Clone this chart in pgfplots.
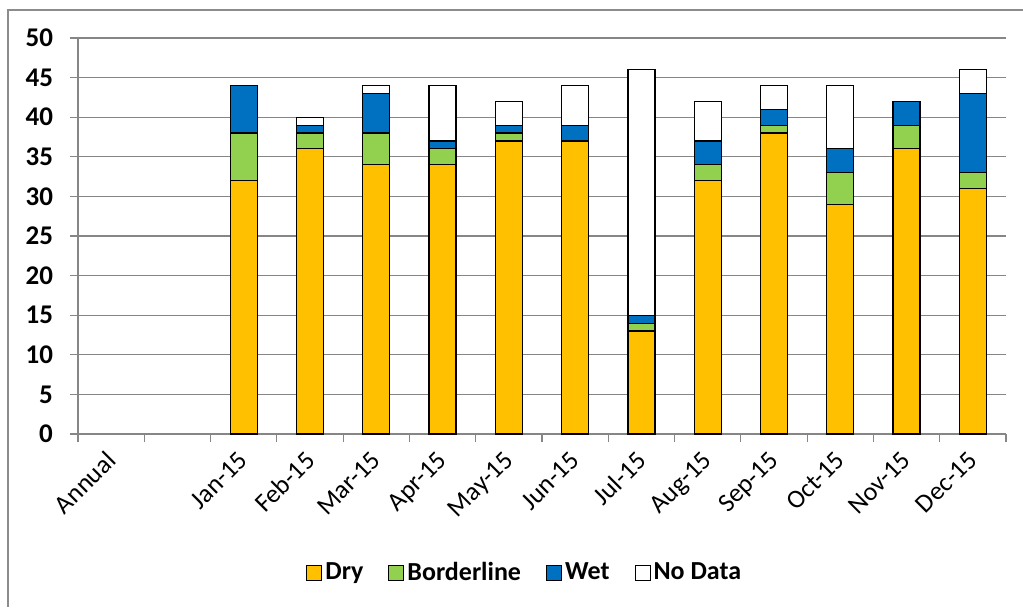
\documentclass[border=0pt]{standalone}
\usepackage{pgfplots}
\pgfplotsset{compat=1.18}
\usepackage{fontspec}
\setmainfont{Carlito}
\definecolor{dry}{HTML}{FFC000}
\definecolor{border}{HTML}{92D050}
\definecolor{wet}{HTML}{0070C0}
\definecolor{gridgray}{HTML}{868686}
\definecolor{framegray}{HTML}{8C8C8C}
\begin{document}
\begin{tikzpicture}
\useasboundingbox (0pt,0pt) rectangle (511.5pt,303.5pt);
\draw[framegray, line width=0.6pt] (4pt,0pt) -- (4pt,298.5pt) -- (511.5pt,298.5pt);
\begin{axis}[
  at={(39pt,86.5pt)}, anchor=south west,
  scale only axis, width=464pt, height=198pt,
  xmin=-0.5, xmax=13.5, ymin=0, ymax=50,
  ytick={0,5,...,50},
  /pgf/number format/assume math mode=true,
  axis lines*=left,
  axis line style={draw=gridgray, line width=0.6pt},
  ymajorgrids, grid style={draw=gridgray, line width=0.6pt},
  tick align=outside,
  major tick length=4pt, minor tick length=4pt,
  ytick style={draw=gridgray, line width=0.6pt},
  xtick={0,...,13},
  xticklabels={Annual,,Jan-15,Feb-15,Mar-15,Apr-15,May-15,Jun-15,Jul-15,Aug-15,Sep-15,Oct-15,Nov-15,Dec-15},
  major x tick style={draw=none},
  minor xtick={-0.5,0.5,...,13.5},
  minor x tick style={draw=gridgray, line width=0.6pt},
  x tick label style={rotate=45, anchor=north east, xshift=-1.5pt, yshift=3pt, font=\fontsize{13}{15}\selectfont},
  y tick label style={font=\fontsize{13.5}{15}\selectfont\bfseries, xshift=-5pt},
  ybar stacked, bar width=13.5pt,
  every axis plot/.append style={draw=black, line width=0.6pt},
  legend columns=4,
  legend style={at={(0.482,-0.351)}, anchor=center, draw=none, fill=none,
    font=\fontsize{13}{15}\selectfont\bfseries,
    /tikz/every even column/.append style={column sep=11pt},
    nodes={inner sep=1.5pt}},
  legend image code/.code={\draw[#1,draw=black,line width=0.5pt] (0pt,-3.7pt) rectangle (7.5pt,3.7pt);},
]
\addplot[fill=dry] coordinates {(2,32) (3,36) (4,34) (5,34) (6,37) (7,37) (8,13) (9,32) (10,38) (11,29) (12,36) (13,31)};
\addplot[fill=border] coordinates {(2,6) (3,2) (4,4) (5,2) (6,1) (7,0) (8,1) (9,2) (10,1) (11,4) (12,3) (13,2)};
\addplot[fill=wet] coordinates {(2,6) (3,1) (4,5) (5,1) (6,1) (7,2) (8,1) (9,3) (10,2) (11,3) (12,3) (13,10)};
\addplot[fill=white] coordinates {(2,0) (3,1) (4,1) (5,7) (6,3) (7,5) (8,31) (9,5) (10,3) (11,8) (12,0) (13,3)};
\legend{Dry,Borderline,Wet,No Data}
\end{axis}
\end{tikzpicture}
\end{document}
